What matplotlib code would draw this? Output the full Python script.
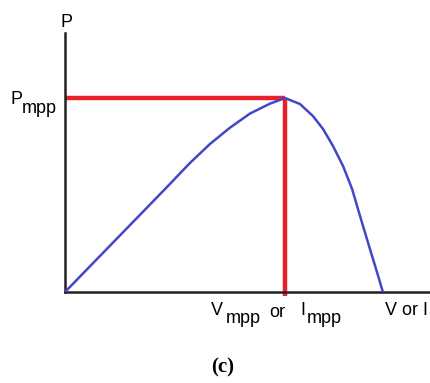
import matplotlib.pyplot as plt
import numpy as np

# P-V curve of a PV module (normalised to the maximum power point)
voltage = [0.0, 0.227, 0.455, 0.568, 0.659, 0.75, 0.841, 0.932, 1.0,
           1.068, 1.127, 1.173, 1.218, 1.264, 1.305, 1.341, 1.386, 1.418, 1.445]
power = [0.0, 0.265, 0.531, 0.665, 0.763, 0.847, 0.920, 0.971, 1.0,
         0.969, 0.907, 0.840, 0.753, 0.649, 0.531, 0.392, 0.222, 0.103, 0.0]

v_mpp = voltage[int(np.argmax(power))]
p_mpp = max(power)

W, H = 431, 383


def fx(px):
    return px / W


def fy(py):
    return 1 - py / H


fig = plt.figure(figsize=(W / 100, H / 100), dpi=100)
ax = fig.add_axes([fx(65), fy(292), (W - 65) / W, (292 - 33) / H])
ax.set_xlim(0, 366 / 220)
ax.set_ylim(0, 259 / 194)

ax.plot([0, v_mpp], [p_mpp, p_mpp], color='#e8202a', lw=3.2, solid_capstyle='butt', zorder=2)
ax.plot([v_mpp, v_mpp], [-0.02, p_mpp], color='#e8202a', lw=3.2, solid_capstyle='butt',
        zorder=2, clip_on=False)
ax.plot(voltage, power, color='#4048c8', lw=1.8, zorder=3,
        solid_joinstyle='round', solid_capstyle='round')

for s in ['top', 'right']:
    ax.spines[s].set_visible(False)
for s in ['left', 'bottom']:
    ax.spines[s].set_color('#222222')
    ax.spines[s].set_linewidth(1.8)
ax.set_xticks([])
ax.set_yticks([])

font = dict(family=['Liberation Sans', 'DejaVu Sans'], color='black')
fs = 13

fig.text(fx(61), fy(27), 'P', fontsize=fs, **font)
fig.text(fx(11), fy(104), 'P', fontsize=fs, **font)
fig.text(fx(22), fy(113), 'mpp', fontsize=fs, **font)

fig.text(fx(211), fy(315), 'V', fontsize=fs, **font)
fig.text(fx(226), fy(323), 'mpp', fontsize=fs, **font)
fig.text(fx(269), fy(317), 'or', fontsize=fs, **font)
fig.text(fx(300), fy(315), 'I', fontsize=fs, **font)
fig.text(fx(307), fy(323), 'mpp', fontsize=fs, **font)
fig.text(fx(385), fy(315), 'V or I', fontsize=fs, **font)

fig.text(fx(223), fy(372), '(c)', fontsize=15, fontweight='bold', ha='center',
         family=['Liberation Serif', 'DejaVu Serif'])

fig.savefig('out.png', dpi=100)
